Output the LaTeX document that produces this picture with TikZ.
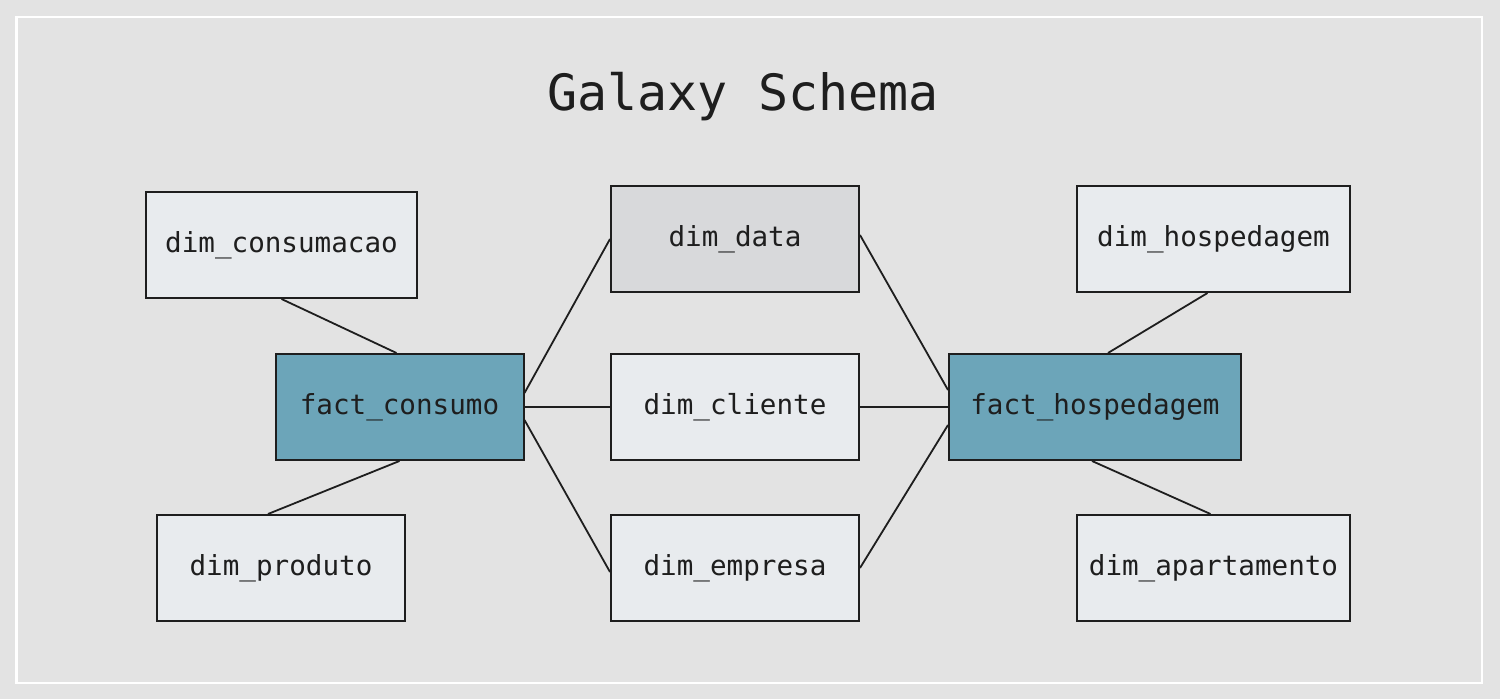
\documentclass[tikz,border=0pt]{standalone}
\usepackage{fontspec}
\newfontfamily\schemafont{DejaVu Sans Mono}
\definecolor{bgcol}{HTML}{E3E3E3}
\definecolor{dimcol}{HTML}{E8EBEE}
\definecolor{factcol}{HTML}{6CA5B9}
\definecolor{datecol}{HTML}{D8D9DB}
\definecolor{inkcol}{HTML}{1E1E1E}

\begin{document}
\begin{tikzpicture}[x=0.5pt,y=-0.5pt,
		thick,main node/.style={rectangle,draw=inkcol,line width=1pt,fill=dimcol,text=inkcol,
			inner sep=0pt,minimum width=124pt,minimum height=53pt,font=\schemafont\fontsize{13.8}{16}\selectfont},
		fact node/.style={main node,fill=factcol},
		link/.style={draw=inkcol,line width=0.9pt}]

		\fill[bgcol] (0,0) rectangle (1500,699);
		\draw[white,line width=1.2pt] (16.5,17) rectangle (1482,683);

		\node[text=inkcol,font=\schemafont\fontsize{25}{30}\selectfont] (title) at (743,97) {Galaxy Schema};

		\node[main node,minimum width=135.5pt] (dc) at (281.5,245) {dim\_consumacao};
		\node[fact node] (fc) at (399.5,407) {fact\_consumo};
		\node[main node] (dp) at (281,568) {dim\_produto};
		\node[main node,fill=datecol] (dd) at (735,239) {dim\_data};
		\node[main node] (dl) at (735,407) {dim\_cliente};
		\node[main node] (de) at (735,568) {dim\_empresa};
		\node[fact node,minimum width=146pt] (fh) at (1095,407) {fact\_hospedagem};
		\node[main node,minimum width=136.5pt] (dh) at (1213.5,239) {dim\_hospedagem};
		\node[main node,minimum width=136.5pt] (da) at (1213.5,568) {dim\_apartamento};

		% left star
		\path[link] (dc.south) -- ([xshift=-1.5pt]fc.north);
		\path[link] (fc.south) -- ([xshift=-6.5pt]dp.north);
		\path[link] ([yshift=7pt]fc.east) -- (dd.west);
		\path[link] (fc.east) -- (dl.west);
		\path[link] ([yshift=-6.5pt]fc.east) -- ([yshift=-2pt]de.west);
		% right star
		\path[link] ([yshift=2pt]dd.east) -- ([yshift=8.5pt]fh.west);
		\path[link] (dl.east) -- (fh.west);
		\path[link] (de.east) -- ([yshift=-9pt]fh.west);
		\path[link] ([xshift=-3pt]dh.south) -- ([xshift=6.5pt]fh.north);
		\path[link] ([xshift=-1.5pt]fh.south) -- ([xshift=-1.5pt]da.north);
\end{tikzpicture}
\end{document}
